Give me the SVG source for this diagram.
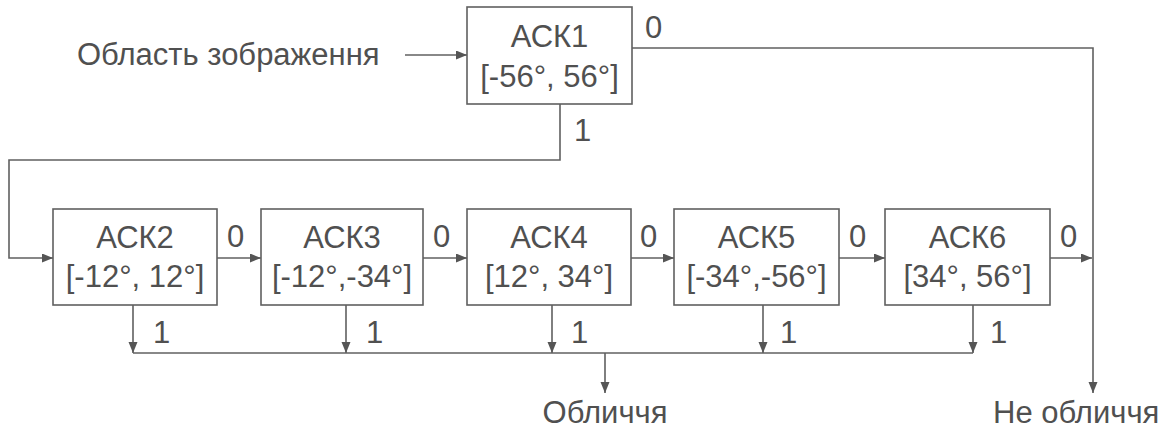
<svg xmlns="http://www.w3.org/2000/svg" width="1166" height="434" viewBox="0 0 1166 434">
<style>
.box{fill:#fff;stroke:#606060;stroke-width:1.6}
.ln{fill:none;stroke:#606060;stroke-width:1.6}
text{font-family:"Liberation Sans",Arial,sans-serif;font-size:31px;fill:#505050}
.c{text-anchor:middle}
</style>
<defs>
<marker id="ar" markerUnits="userSpaceOnUse" markerWidth="12" markerHeight="10" refX="11" refY="4.5" orient="auto">
<path d="M0,0 L11,4.5 L0,9 z" fill="#555"/>
</marker>
</defs>
<rect width="1166" height="434" fill="#fff"/>
<g id="connectors">
<path class="ln" d="M405,55 H467" marker-end="url(#ar)"/>
<path class="ln" d="M632,48 H1093 V393" marker-end="url(#ar)"/>
<path class="ln" d="M560,104 V160 H9 V258 H53" marker-end="url(#ar)"/>
<path class="ln" d="M217,258 H261" marker-end="url(#ar)"/>
<path class="ln" d="M423,258 H467" marker-end="url(#ar)"/>
<path class="ln" d="M631,258 H674" marker-end="url(#ar)"/>
<path class="ln" d="M839,258 H885" marker-end="url(#ar)"/>
<path class="ln" d="M1050,258 H1092" marker-end="url(#ar)"/>
<path class="ln" d="M133,305 V353" marker-end="url(#ar)"/>
<path class="ln" d="M346,305 V353" marker-end="url(#ar)"/>
<path class="ln" d="M552,305 V353" marker-end="url(#ar)"/>
<path class="ln" d="M763,305 V353" marker-end="url(#ar)"/>
<path class="ln" d="M973,305 V353" marker-end="url(#ar)"/>
<path class="ln" d="M133,353 H973"/>
<path class="ln" d="M605,353 V393" marker-end="url(#ar)"/>
<text x="645" y="38">0</text>
<text x="574" y="141">1</text>
<text x="227" y="247">0</text>
<text x="433" y="247">0</text>
<text x="640" y="247">0</text>
<text x="849" y="247">0</text>
<text x="1060" y="247">0</text>
<text x="153" y="343">1</text>
<text x="366" y="343">1</text>
<text x="571" y="343">1</text>
<text x="780" y="343">1</text>
<text x="990" y="343">1</text>
</g>
<g id="input"><text x="77" y="65">Область зображення</text></g>
<g id="ack1">
<rect class="box" x="467" y="7" width="165" height="97"/>
<text class="c" x="549.5" y="47">АСК1</text>
<text class="c" x="549.5" y="87">[-56°, 56°]</text>
</g>
<g id="ack2">
<rect class="box" x="53" y="209" width="164" height="96"/>
<text class="c" x="135" y="248">АСК2</text>
<text class="c" x="135" y="287">[-12°, 12°]</text>
</g>
<g id="ack3">
<rect class="box" x="261" y="209" width="162" height="96"/>
<text class="c" x="342" y="248">АСК3</text>
<text class="c" x="342" y="287">[-12°,-34°]</text>
</g>
<g id="ack4">
<rect class="box" x="467" y="209" width="164" height="96"/>
<text class="c" x="549" y="248">АСК4</text>
<text class="c" x="549" y="287">[12°, 34°]</text>
</g>
<g id="ack5">
<rect class="box" x="674" y="209" width="165" height="96"/>
<text class="c" x="756.5" y="248">АСК5</text>
<text class="c" x="756.5" y="287">[-34°,-56°]</text>
</g>
<g id="ack6">
<rect class="box" x="885" y="209" width="165" height="96"/>
<text class="c" x="967.5" y="248">АСК6</text>
<text class="c" x="967.5" y="287">[34°, 56°]</text>
</g>
<g id="face"><text class="c" x="605" y="423">Обличчя</text></g>
<g id="nonface"><text x="993" y="423">Не обличчя</text></g>
</svg>
